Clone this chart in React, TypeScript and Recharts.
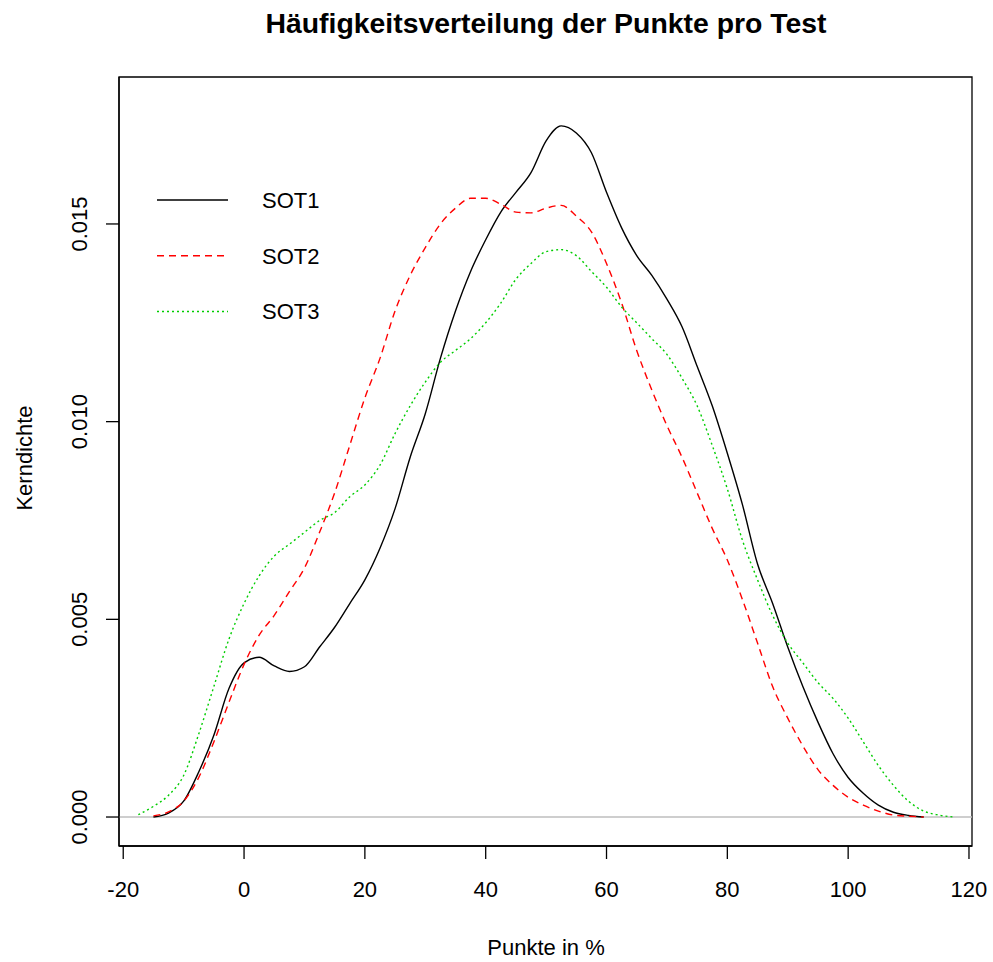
import React from "react";
import { ComposedChart, Line, XAxis, YAxis, ReferenceLine, ReferenceArea, Legend } from "recharts";

const xValues = [
  -20, -17.5, -15, -12.5, -10, -7.5, -5, -2.5, 0, 2.5, 5, 7.5, 10, 12.5, 15, 17.5, 20, 22.5, 25, 27.5,
  30, 32.5, 35, 37.5, 40, 42.5, 45, 47.5, 50, 52.5, 55, 57.5, 60, 62.5, 65, 67.5, 70, 72.5, 75, 77.5,
  80, 82.5, 85, 87.5, 90, 92.5, 95, 97.5, 100, 102.5, 105, 107.5, 110, 112.5, 115, 117.5, 120,
];

const sot1 = [
  null, null, 0, 0.0001, 0.0004, 0.00114, 0.00207, 0.00325, 0.0039, 0.00404, 0.00382, 0.00368, 0.0038, 0.0043, 0.0048, 0.0054, 0.006, 0.0068, 0.0078, 0.0091,
  0.0102, 0.0116, 0.0128, 0.0138, 0.0146, 0.0153, 0.0158, 0.0163, 0.0171, 0.01748, 0.0173, 0.0168, 0.0158, 0.0149, 0.0142, 0.0137, 0.0131, 0.0124, 0.0114, 0.0104,
  0.0092, 0.0079, 0.0064, 0.0054, 0.0043, 0.0033, 0.0024, 0.0016, 0.001, 0.0006, 0.0003, 0.00012, 0.00004, 0, null, null, null,
];

const sot2 = [
  null, null, 0.00003, 0.00013, 0.0004, 0.001, 0.0019, 0.0029, 0.00386, 0.0046, 0.0051, 0.0057, 0.0063, 0.0072, 0.0082, 0.0094, 0.0106, 0.0116, 0.0128, 0.0137,
  0.0144, 0.015, 0.0154, 0.01565, 0.01565, 0.0155, 0.0153, 0.01528, 0.0154, 0.01547, 0.0152, 0.0148, 0.014, 0.013, 0.0118, 0.0108, 0.0099, 0.0091, 0.0082, 0.0073,
  0.0065, 0.0055, 0.0044, 0.0033, 0.0025, 0.0018, 0.0012, 0.0008, 0.0005, 0.0003, 0.00015, 0.00005, 0.00002, 0, null, null, null,
];

const sot3 = [
  null, 0.00006, 0.00027, 0.00055, 0.00105, 0.0021, 0.0033, 0.0045, 0.0054, 0.0061, 0.0066, 0.0069, 0.0072, 0.0075, 0.0077, 0.0081, 0.0084, 0.0089, 0.0097, 0.0104,
  0.011, 0.0115, 0.0118, 0.0121, 0.0125, 0.013, 0.0136, 0.014, 0.0143, 0.01435, 0.0142, 0.0138, 0.0134, 0.0129, 0.0125, 0.0121, 0.0117, 0.0111, 0.0104, 0.0094,
  0.0083, 0.007, 0.006, 0.0051, 0.0044, 0.0039, 0.0034, 0.003, 0.0025, 0.0019, 0.0013, 0.0008, 0.0004, 0.00015, 0.00005, 0, null,
];

const seriesNames = ["SOT1", "SOT2", "SOT3"];
const xTicks = [-20, 0, 20, 40, 60, 80, 100, 120];
const yTicks = [0, 0.005, 0.01, 0.015];
const xDomain = [-20.7, 120.5];
const yDomain = [-0.000733, 0.018717];

const data = xValues.map((x, i) => ({ x, SOT1: sot1[i], SOT2: sot2[i], SOT3: sot3[i] }));

const FONT = "'Liberation Sans', Arial, Helvetica, sans-serif";

const styles = [
  { color: "#000000", dash: undefined as string | undefined },
  { color: "#FF0000", dash: "7 5" },
  { color: "#00CD00", dash: "2 3" },
];

const XTick = (props: any) => {
  const { x, y, payload } = props;
  return (
    <text x={x} y={y + 36} textAnchor="middle" fontFamily={FONT} fontSize={22} fill="#000">
      {payload.value}
    </text>
  );
};

const YTick = (props: any) => {
  const { x, y, payload } = props;
  const bx = x - 17;
  return (
    <text x={bx} y={y} transform={`rotate(-90 ${bx} ${y})`} textAnchor="middle" fontFamily={FONT} fontSize={22} fill="#000">
      {Number(payload.value).toFixed(3)}
    </text>
  );
};

const LegendBox = () => (
  <svg width={220} height={160} style={{ display: "block" }}>
    {seriesNames.map((name, i) => (
      <g key={name}>
        <line x1={7} x2={78} y1={20 + i * 55.7} y2={20 + i * 55.7} stroke={styles[i].color} strokeWidth={1.5} strokeDasharray={styles[i].dash} />
        <text x={112} y={20 + i * 55.7 + 8} fontFamily={FONT} fontSize={22} fill="#000">
          {name}
        </text>
      </g>
    ))}
  </svg>
);

export default function App() {
  return (
    <div style={{ position: "absolute", left: 0, top: 0, width: 993, height: 962, background: "#fff" }}>
      <svg width={993} height={962} style={{ position: "absolute", left: 0, top: 0, pointerEvents: "none" }}>
        <text x={546} y={33} textAnchor="middle" fontFamily={FONT} fontWeight="bold" fontSize={28.4} fill="#000">
          Häufigkeitsverteilung der Punkte pro Test
        </text>
        <text x={546} y={955} textAnchor="middle" fontFamily={FONT} fontSize={22} fill="#000">
          Punkte in %
        </text>
        <text x={31.5} y={458} transform="rotate(-90 31.5 458)" textAnchor="middle" fontFamily={FONT} fontSize={22} fill="#000">
          Kerndichte
        </text>
      </svg>
      <div style={{ position: "absolute", left: 0, top: 0 }}>
        <ComposedChart width={993} height={962} data={data} margin={{ top: 77, right: 21, bottom: 0, left: 0 }}>
          <XAxis
            dataKey="x"
            type="number"
            domain={xDomain}
            ticks={xTicks}
            allowDataOverflow
            height={116}
            tickSize={13}
            tickLine={{ stroke: "#000", strokeWidth: 1.3 }}
            axisLine={{ stroke: "#000", strokeWidth: 1.3 }}
            tick={<XTick />}
            interval={0}
          />
          <YAxis
            type="number"
            domain={yDomain}
            ticks={yTicks}
            allowDataOverflow
            width={119}
            tickSize={13}
            tickLine={{ stroke: "#000", strokeWidth: 1.3 }}
            axisLine={{ stroke: "#000", strokeWidth: 1.3 }}
            tick={<YTick />}
            interval={0}
          />
          <ReferenceArea
            x1={xDomain[0]}
            x2={xDomain[1]}
            y1={yDomain[0]}
            y2={yDomain[1]}
            fill="none"
            fillOpacity={0}
            stroke="#000"
            strokeWidth={1.3}
            ifOverflow="visible"
          />
          <ReferenceLine y={0} stroke="#BEBEBE" strokeWidth={1.3} />
          {seriesNames.map((name, i) => (
            <Line
              key={name}
              dataKey={name}
              name={name}
              type="monotone"
              stroke={styles[i].color}
              strokeWidth={1.4}
              strokeDasharray={styles[i].dash}
              dot={false}
              activeDot={false}
              connectNulls={false}
              isAnimationActive={false}
            />
          ))}
          <Legend
            layout="vertical"
            align="center"
            verticalAlign="middle"
            content={<LegendBox />}
            wrapperStyle={{ position: "absolute", left: 150, top: 180, width: 220, height: 160 }}
          />
        </ComposedChart>
      </div>
    </div>
  );
}
